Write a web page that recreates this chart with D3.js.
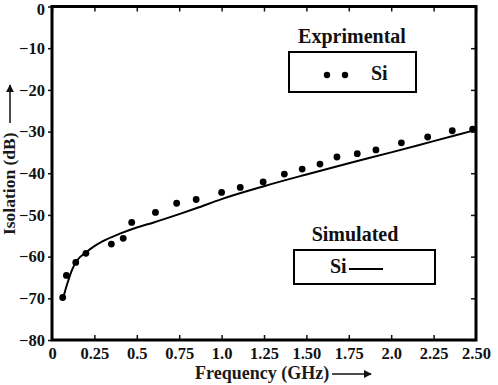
<!DOCTYPE html>
<html>
<head>
<meta charset="utf-8">
<title>Isolation vs Frequency</title>
<script src="https://d3js.org/d3.v7.min.js"></script>
<style>
body { margin: 0; background: #fff; }
svg { display: block; }
</style>
</head>
<body>
<script>
// measured data (GHz, dB)
var expFreq = [0.063, 0.085, 0.14, 0.20, 0.35, 0.42, 0.47, 0.61, 0.735, 0.85, 1.0, 1.11, 1.245, 1.37, 1.475, 1.58, 1.68, 1.80, 1.91, 2.06, 2.215, 2.36, 2.48];
var expIso  = [-69.8, -64.5, -61.4, -59.2, -57.0, -55.6, -51.8, -49.4, -47.2, -46.3, -44.6, -43.4, -42.1, -40.2, -39.0, -37.8, -36.1, -35.3, -34.4, -32.7, -31.3, -29.8, -29.4];

// simulated curve
var simFreq = [0.065, 0.09, 0.12, 0.15, 0.2, 0.25, 0.3, 0.4, 0.5, 0.6, 0.75, 0.85, 1.0, 1.25, 1.5, 1.75, 2.0, 2.25, 2.5];
var simIso  = [-70.0, -66.5, -63.0, -60.8, -59.0, -57.5, -56.3, -54.5, -53.0, -51.8, -49.8, -48.4, -46.2, -43.1, -40.3, -37.6, -35.0, -32.3, -29.6];

var xTicks = [0, 0.25, 0.5, 0.75, 1.0, 1.25, 1.5, 1.75, 2.0, 2.25, 2.5];
var xTickLabels = ["0", "0.25", "0.5", "0.75", "1.0", "1.25", "1.50", "1.75", "2.0", "2.25", "2.50"];
var yTicks = [0, -10, -20, -30, -40, -50, -60, -70, -80];

var FONT = "'Liberation Serif', 'DejaVu Serif', serif";
var width = 498, height = 385;
var margin = {left: 52, right: 22, top: 6.5, bottom: 45};

var svg = d3.select("body").append("svg")
    .attr("width", width)
    .attr("height", height)
    .attr("font-family", FONT)
    .attr("font-weight", "bold");

var x = d3.scaleLinear().domain([0, 2.5]).range([margin.left, width - margin.right]);
var y = d3.scaleLinear().domain([-80, 0]).range([height - margin.bottom, margin.top]);

// axes
var bottomAxis = d3.axisBottom(x).tickValues(xTicks)
    .tickFormat(function(d, i) { return xTickLabels[i]; })
    .tickSizeInner(-5).tickSizeOuter(0).tickPadding(7);
var gx = svg.append("g")
    .attr("transform", "translate(0," + y(-80) + ")")
    .call(bottomAxis);

var topAxis = d3.axisTop(x).tickValues(xTicks).tickFormat("").tickSizeInner(-5).tickSizeOuter(0);
svg.append("g").attr("transform", "translate(0," + y(0) + ")").call(topAxis);

var leftAxis = d3.axisLeft(y).tickValues(yTicks).tickSizeInner(4).tickSizeOuter(0).tickPadding(3);
var gy = svg.append("g")
    .attr("transform", "translate(" + x(0) + ",0)")
    .call(leftAxis);

var rightAxis = d3.axisRight(y).tickValues(yTicks).tickFormat("").tickSizeInner(-5).tickSizeOuter(0);
svg.append("g").attr("transform", "translate(" + x(2.5) + ",0)").call(rightAxis);

svg.selectAll(".domain").remove();
svg.selectAll("g").attr("font-family", FONT).attr("font-size", 16.5);
svg.selectAll(".tick text").attr("fill", "#111").attr("font-weight", "bold");
svg.selectAll(".tick line").attr("stroke", "#111").attr("stroke-width", 1.5);
gx.selectAll(".tick").filter(function(d) { return d === 0 || d === 2.5; }).select("line").remove();
// the top label sits a little lower so it is not clipped
gy.selectAll(".tick").filter(function(d) { return d === 0; }).select("text").attr("dy", "0.5em");

// frame
svg.append("rect")
    .attr("x", x(0)).attr("y", y(0))
    .attr("width", x(2.5) - x(0)).attr("height", y(-80) - y(0))
    .attr("fill", "none").attr("stroke", "#000").attr("stroke-width", 3);

// simulated line
var simData = simFreq.map(function(f, i) { return [f, simIso[i]]; });
var line = d3.line()
    .x(function(d) { return x(d[0]); })
    .y(function(d) { return y(d[1]); })
    .curve(d3.curveMonotoneX);
svg.append("path")
    .datum(simData)
    .attr("d", line)
    .attr("fill", "none")
    .attr("stroke", "#000")
    .attr("stroke-width", 2);

// experimental points
svg.append("g").selectAll("circle")
    .data(expFreq)
  .enter().append("circle")
    .attr("cx", function(d) { return x(d); })
    .attr("cy", function(d, i) { return y(expIso[i]); })
    .attr("r", 3.4)
    .attr("fill", "#000");

// legends
svg.append("text").attr("x", 352).attr("y", 43).attr("text-anchor", "middle")
    .attr("font-size", 20).attr("fill", "#111").text("Exprimental");
svg.append("rect").attr("x", 289).attr("y", 52).attr("width", 127).attr("height", 40)
    .attr("fill", "none").attr("stroke", "#000").attr("stroke-width", 2);
svg.append("circle").attr("cx", 327).attr("cy", 75).attr("r", 3.2).attr("fill", "#000");
svg.append("circle").attr("cx", 345).attr("cy", 75).attr("r", 3.2).attr("fill", "#000");
svg.append("text").attr("x", 371).attr("y", 80).attr("font-size", 20).attr("fill", "#111").text("Si");

svg.append("text").attr("x", 355).attr("y", 241).attr("text-anchor", "middle")
    .attr("font-size", 20).attr("fill", "#111").text("Simulated");
svg.append("rect").attr("x", 294).attr("y", 250).attr("width", 141).attr("height", 34)
    .attr("fill", "none").attr("stroke", "#000").attr("stroke-width", 2);
svg.append("text").attr("x", 330).attr("y", 273).attr("font-size", 20).attr("fill", "#111").text("Si");
svg.append("line").attr("x1", 349).attr("x2", 383).attr("y1", 269).attr("y2", 269)
    .attr("stroke", "#000").attr("stroke-width", 2);

// arrow marker
svg.append("defs").append("marker")
    .attr("id", "arr").attr("viewBox", "0 0 10 10")
    .attr("refX", 9).attr("refY", 5)
    .attr("markerWidth", 8).attr("markerHeight", 8)
    .attr("markerUnits", "userSpaceOnUse")
    .attr("orient", "auto")
  .append("path").attr("d", "M0,0 L10,5 L0,10 Z").attr("fill", "#111");

// x axis title
svg.append("text").attr("x", 195).attr("y", 379).attr("font-size", 18)
    .attr("fill", "#1a1a1a").text("Frequency (GHz)");
svg.append("line").attr("x1", 332).attr("x2", 371).attr("y1", 374).attr("y2", 374)
    .attr("stroke", "#111").attr("stroke-width", 1.5).attr("marker-end", "url(#arr)");

// y axis title
svg.append("text")
    .attr("transform", "translate(15,235) rotate(-90)")
    .attr("font-size", 17.5).attr("fill", "#1a1a1a").text("Isolation (dB)");
svg.append("line").attr("x1", 10).attr("x2", 10).attr("y1", 123).attr("y2", 85)
    .attr("stroke", "#111").attr("stroke-width", 1.5).attr("marker-end", "url(#arr)");
</script>
</body>
</html>
